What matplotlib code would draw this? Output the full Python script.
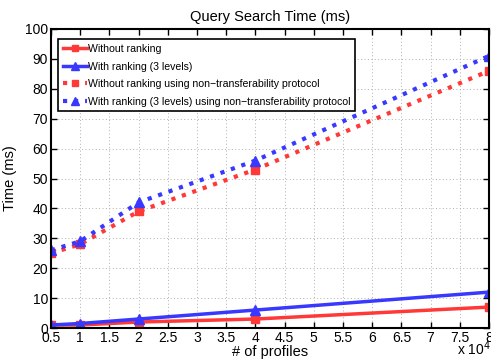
import matplotlib
matplotlib.use("Agg")
import matplotlib.pyplot as plt
import numpy as np

plt.rcParams['font.family'] = ['Liberation Sans', 'DejaVu Sans']

profiles = [0.5, 1, 2, 4, 8]  # x 10^4
without_rank = [1, 1, 2, 3, 7]
with_rank = [1, 1.5, 3, 6, 12]
without_rank_nt = [25, 28, 39, 53, 86]
with_rank_nt = [26, 29, 42, 56, 91]
xticks = [0.5, 1, 1.5, 2, 2.5, 3, 3.5, 4, 4.5, 5, 5.5, 6, 6.5, 7, 7.5, 8]
xticklabels = ['0.5', '1', '1.5', '2', '2.5', '3', '3.5', '4', '4.5', '5', '5.5', '6', '6.5', '7', '7.5', '8']

red = '#ff3838'
blue = '#3838ff'

fig = plt.figure(figsize=(4.91, 3.6), dpi=100)
ax = fig.add_axes([51/491, 1-328/360, (489-51)/491, (328-29)/360])

ax.plot(profiles, without_rank, '-', color=red, lw=2.5, marker='s', ms=5.5, label='Without ranking')
ax.plot(profiles, with_rank, '-', color=blue, lw=2.5, marker='^', ms=7, label='With ranking (3 levels)')
ax.plot(profiles, without_rank_nt, ':', color=red, lw=3, marker='s', ms=5.5, label='Without ranking using non\u2212transferability protocol')
ax.plot(profiles, with_rank_nt, ':', color=blue, lw=3, marker='^', ms=7, label='With ranking (3 levels) using non\u2212transferability protocol')

ax.set_xlim(0.5, 8)
ax.set_ylim(0, 100)
ax.set_xticks(xticks)
ax.set_xticklabels(xticklabels)
ax.set_yticks(range(0, 101, 10))
ax.tick_params(direction='in', top=True, right=True, labelsize=10, length=4, pad=2, width=1)
ax.grid(True, linestyle=(0, (1, 2.5)), color='#b0b0b0', lw=0.7)
for s in ax.spines.values():
    s.set_linewidth(1.5)
ax.set_title('Query Search Time (ms)', fontsize=10.5, pad=6)
ax.set_xlabel('# of profiles', fontsize=10.5, labelpad=0)
ax.set_ylabel('Time (ms)', fontsize=10.5, labelpad=6)
fig.text(1.0, 0.005, 'x 10$^4$', ha='right', va='bottom', fontsize=10)

leg = ax.legend(loc='upper left', bbox_to_anchor=(0.016, 0.966), fontsize=7.6, fancybox=False,
                edgecolor='black', framealpha=1, handlelength=2.25, handletextpad=0.15,
                borderpad=0.45, labelspacing=0.72, borderaxespad=0, markerscale=0.85)
leg.get_frame().set_linewidth(1.2)

fig.savefig('out.png', dpi=100)
